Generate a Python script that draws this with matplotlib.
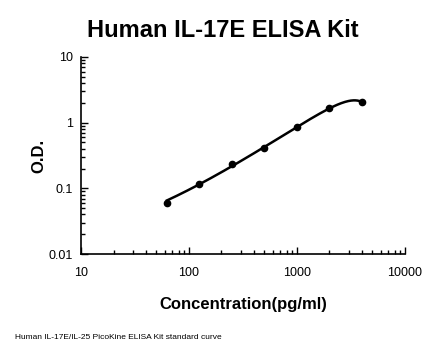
import numpy as np
import matplotlib
matplotlib.use("Agg")
import matplotlib.pyplot as plt
from matplotlib.ticker import LogLocator, FixedLocator, NullFormatter

conc = [62.5, 125, 250, 500, 1000, 2000, 4000]
od = [0.059, 0.116, 0.231, 0.418, 0.86, 1.65, 2.06]
xticks = [10, 100, 1000, 10000]
xticklabels = ["10", "100", "1000", "10000"]
yticks = [0.01, 0.1, 1, 10]
yticklabels = ["0.01", "0.1", "1", "10"]

plt.rcParams['font.family'] = ['Liberation Sans', 'DejaVu Sans']

fig = plt.figure(figsize=(4.46, 3.56), dpi=100)
ax = fig.add_axes([0.1816, 0.2865, 0.7264, 0.5534])

# polynomial trendline (cubic, linear space)
coef = np.polyfit(conc, od, 3)
xs = np.logspace(np.log10(conc[0]), np.log10(conc[-1]), 300)
ax.plot(xs, np.polyval(coef, xs), color='black', lw=1.8)
ax.plot(conc, od, 'o', color='black', ms=4.5)

ax.set_xscale('log')
ax.set_yscale('log')
ax.set_xlim(10, 10000)
ax.set_ylim(0.01, 10)
ax.xaxis.set_major_locator(FixedLocator(xticks))
ax.set_xticklabels(xticklabels)
ax.yaxis.set_major_locator(FixedLocator(yticks))
ax.set_yticklabels(yticklabels)
ax.xaxis.set_minor_locator(LogLocator(base=10, subs=np.arange(2, 10)))
ax.yaxis.set_minor_locator(LogLocator(base=10, subs=np.arange(2, 10)))
ax.xaxis.set_minor_formatter(NullFormatter())
ax.yaxis.set_minor_formatter(NullFormatter())
ax.tick_params(which='both', direction='in', width=1, labelsize=9, color='black')
ax.tick_params(which='major', length=5)
ax.tick_params(which='minor', length=3)
ax.tick_params(axis='x', pad=9)
ax.tick_params(axis='y', pad=6)
for s in ['top', 'right']:
    ax.spines[s].set_visible(False)
for s in ['left', 'bottom']:
    ax.spines[s].set_linewidth(1.2)

fig.text(0.5, 0.915, "Human IL-17E ELISA Kit", ha='center', va='center', fontsize=17, fontweight='bold')
ax.set_xlabel("Concentration(pg/ml)", fontsize=12, fontweight='bold', labelpad=13)
ax.set_ylabel("O.D.", fontsize=12, fontweight='bold')
ax.yaxis.set_label_coords(-0.108, 0.5)
fig.text(0.034, 0.053, "Human IL-17E/IL-25 PicoKine ELISA Kit standard curve", fontsize=6, va='center', ha='left')

fig.savefig("out.png", dpi=100)
